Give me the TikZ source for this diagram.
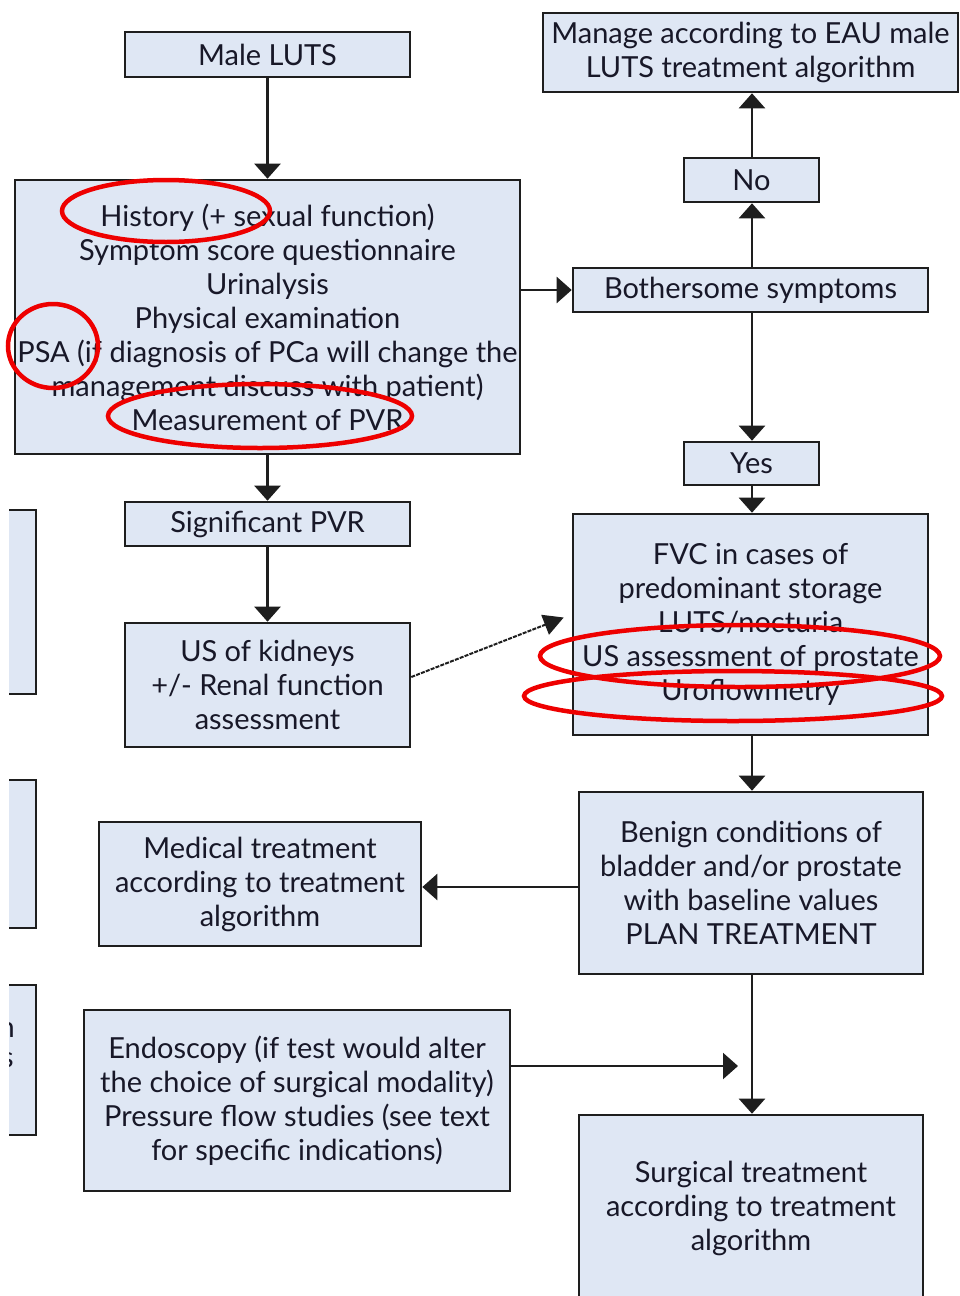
\documentclass[tikz,border=0pt]{standalone}
\usepackage{fontspec}
\setmainfont{Lato}
\usetikzlibrary{arrows.meta,calc}
\definecolor{boxfill}{RGB}{223,231,244}
\definecolor{boxline}{RGB}{30,30,30}
\definecolor{inktext}{RGB}{24,24,40}
\definecolor{markred}{RGB}{238,0,0}
\tikzset{
  flowbox/.style={draw=boxline, line width=2.6pt, fill=boxfill, align=center,
    inner sep=0pt, text=inktext, font=\fontsize{29}{34}\selectfont},
  flowarrow/.style={draw=boxline, line width=2.3pt,
    -{Triangle[length=15pt,width=26pt]}},
  thinarrow/.style={draw=boxline, line width=2pt, dash pattern=on 4pt off 1.2pt,
    -{Triangle[length=20pt,width=21pt]}},
  redring/.style={draw=markred, line width=4.5pt}
}
\begin{document}
\begin{tikzpicture}[x=1pt,y=-1pt]
\useasboundingbox[fill=white] (0,0) rectangle (959,1296);

% boxes cut off at the left edge
\begin{scope}
  \clip (9,0) rectangle (959,1296);
  \node[flowbox, minimum width=60, minimum height=184] (lefta) at (6,602) {};
  \node[flowbox, minimum width=60, minimum height=148] (leftb) at (6,854) {};
  \node[flowbox, minimum width=60, minimum height=150] (leftc) at (6,1060) {};
  \node[text=inktext, font=\fontsize{29}{34}\selectfont, anchor=east, inner sep=0pt] (leftn) at (15,1030) {n};
  \node[text=inktext, font=\fontsize{29}{34}\selectfont, anchor=east, inner sep=0pt] (lefts) at (14,1060) {s};
\end{scope}

% left column
\node[flowbox, minimum width=285, minimum height=45] (male) at (267.5,54.5) {Male LUTS};
\node[flowbox, minimum width=505, minimum height=274] (hist) at (267.5,317)
  {History (+ sexual function)\\Symptom score questionnaire\\Urinalysis\\Physical examination\\PSA (if diagnosis of PCa will change the\\management discuss with patient)\\Measurement of PVR};
\node[flowbox, minimum width=285, minimum height=44] (pvr) at (267.5,524) {Significant PVR};
\node[flowbox, minimum width=285, minimum height=124] (kid) at (267.5,685)
  {US of kidneys\\+/- Renal function\\assessment};
\node[flowbox, minimum width=322, minimum height=124] (med) at (260,884)
  {Medical treatment\\according to treatment\\algorithm};
\node[flowbox, minimum width=426, minimum height=181] (endo) at (297,1100.5)
  {Endoscopy (if test would alter\\the choice of surgical modality)\\Pressure flow studies (see text\\for specific indications)};

% right column
\node[flowbox, minimum width=415, minimum height=79] (eau) at (750.5,52.5)
  {Manage according to EAU male\\LUTS treatment algorithm};
\node[flowbox, minimum width=135, minimum height=44] (no) at (751.5,180) {No};
\node[flowbox, minimum width=355, minimum height=44] (both) at (750.5,290) {Bothersome symptoms};
\node[flowbox, minimum width=135, minimum height=43] (yes) at (751.5,463.5) {Yes};
\node[flowbox, minimum width=355, minimum height=221] (fvc) at (750.5,624.5)
  {FVC in cases of\\predominant storage\\LUTS/nocturia\\US assessment of prostate\\Uroflowmetry};
\node[flowbox, minimum width=344, minimum height=182] (ben) at (751,883)
  {Benign conditions of\\bladder and/or prostate\\with baseline values\\PLAN TREATMENT};
\node[flowbox, minimum width=344, minimum height=186] (surg) at (751,1208)
  {Surgical treatment\\according to treatment\\algorithm};

% connectors
\draw[flowarrow] (male) -- (hist);
\draw[flowarrow] (hist) -- (pvr);
\draw[flowarrow] (pvr) -- (kid);
\draw[flowarrow] (both.west -| hist.east) -- (both.west);
\draw[flowarrow] (both.north -| 752,0) -- (no.south -| 752,0);
\draw[flowarrow] (no.north -| 752,0) -- (eau.south -| 752,0);
\draw[flowarrow] (both.south -| 752,0) -- (yes.north -| 752,0);
\draw[flowarrow] (yes.south -| 752,0) -- (fvc.north -| 752,0);
\draw[flowarrow] (fvc.south -| 752,0) -- (ben.north -| 752,0);
\draw[flowarrow] (ben.south -| 752,0) -- (surg.north -| 752,0);
\draw[flowarrow] (ben.west |- 0,887) -- (med.east |- 0,887);
\coordinate (endotip) at (738,1066);
\draw[flowarrow] (endo.east |- endotip) -- (endotip);
\draw[thinarrow] ([yshift=8pt]kid.east) -- ([xshift=-8pt,yshift=7pt]fvc.west);

% red highlight rings
\draw[redring] (166,211) ellipse [x radius=104, y radius=31];
\draw[redring] (53,346) ellipse [x radius=45, y radius=42];
\draw[redring] (260,416) ellipse [x radius=152, y radius=32];
\draw[redring] (740,656) ellipse [x radius=200, y radius=31];
\draw[redring] (733,696) ellipse [x radius=209, y radius=25];
\end{tikzpicture}
\end{document}
